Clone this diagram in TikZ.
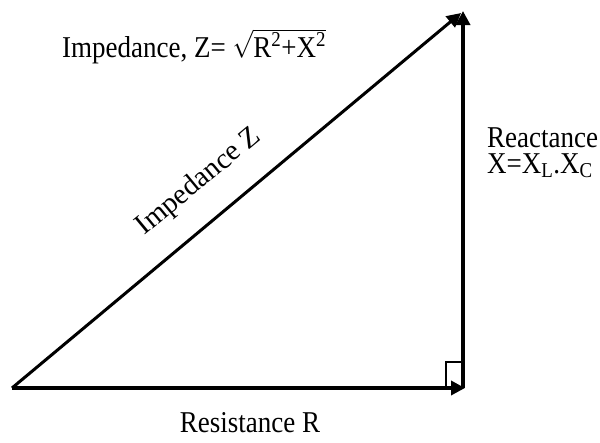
\documentclass[tikz,border=0pt]{standalone}
\usepackage{fontspec}
\setmainfont{Liberation Serif}
\usetikzlibrary{arrows.meta}
\begin{document}
\begin{tikzpicture}[x=1pt,y=-1pt,
  lbl/.style={inner sep=0pt,yscale=1.12,font=\fontsize{27}{30}\selectfont},
  slant/.style={inner sep=0pt,font=\fontsize{29}{32}\selectfont},
  vec/.style={line width=4pt,-{Triangle[length=14pt,width=14pt]}},
  hyp/.style={line width=3pt,-{Triangle[length=14pt,width=14pt]}}]
\useasboundingbox (0,0) rectangle (600,442);
\coordinate (A) at (12,388);
\coordinate (B) at (465,388);
\coordinate (Bv) at (463,388);
\coordinate (C) at (463,11);
\draw[line width=1.3pt] (446,388) -- (446,362) -- (463,362);
\draw[vec] (A) -- (B);
\draw[vec] (Bv) -- (C);
\draw[hyp] (A) -- (461,13);
\node[lbl,anchor=base west] (top) at (62,57) {Impedance, Z= \(\sqrt{\hbox{R\textsuperscript{2}+X\textsuperscript{2}}}\)};
\node[lbl,anchor=base west] (react) at (487,147) {Reactance};
\node[lbl,anchor=base west] (xeq) at (487,173) {X=X\textsubscript{L}.X\textsubscript{C}};
\node[lbl,anchor=base] (res) at (250,432) {Resistance R};
\node[slant,rotate=39.6] (imp) at (199,182) {Impedance Z};
\end{tikzpicture}
\end{document}
